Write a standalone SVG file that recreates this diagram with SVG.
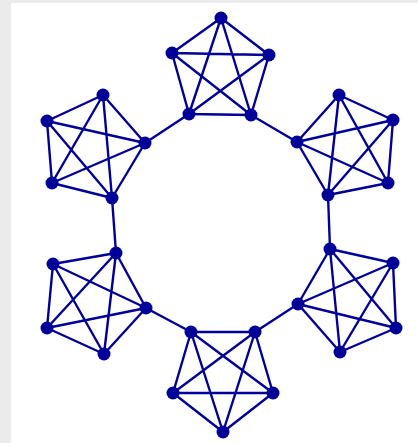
<svg xmlns="http://www.w3.org/2000/svg" width="418" height="443" viewBox="0 0 418 443">
<style>
.e{stroke:#000099;stroke-width:2.4;fill:none;stroke-linecap:round}
.n{fill:#000099}
</style>
<rect width="418" height="443" fill="#ebebeb"/>
<rect x="11" y="3" width="407" height="440" fill="#ffffff"/>
<g id="connectors" class="e">
<path d="M221,18L172,53M221,18L269,55M221,18L189,114M221,18L251,115M172,53L269,55M172,53L189,114M172,53L251,115M269,55L189,114M269,55L251,115M189,114L251,115"/>
<path d="M339,95L393,120M339,95L297,142M339,95L388,183M339,95L328,195M393,120L297,142M393,120L388,183M393,120L328,195M297,142L388,183M297,142L328,195M388,183L328,195"/>
<path d="M103,95L47,121M103,95L145,143M103,95L52,183M103,95L112,198M47,121L145,143M47,121L52,183M47,121L112,198M145,143L52,183M145,143L112,198M52,183L112,198"/>
<path d="M116,253L53,264M116,253L146,308M116,253L47,328M116,253L104,354M53,264L146,308M53,264L47,328M53,264L104,354M146,308L47,328M146,308L104,354M47,328L104,354"/>
<path d="M330,249L393,263M330,249L298,304M330,249L396,328M330,249L340,352M393,263L298,304M393,263L396,328M393,263L340,352M298,304L396,328M298,304L340,352M396,328L340,352"/>
<path d="M191,332L255,332M191,332L173,393M191,332L273,393M191,332L223,432M255,332L173,393M255,332L273,393M255,332L223,432M173,393L273,393M173,393L223,432M273,393L223,432"/>
<path d="M189,114L145,143M251,115L297,142M328,195L330,249M298,304L255,332M191,332L146,308M116,253L112,198"/>
</g>
<g id="t1" class="n"><circle cx="221" cy="18" r="6.5"/></g>
<g id="t2" class="n"><circle cx="172" cy="53" r="6.5"/></g>
<g id="t3" class="n"><circle cx="269" cy="55" r="6.5"/></g>
<g id="t4" class="n"><circle cx="189" cy="114" r="6.5"/></g>
<g id="t5" class="n"><circle cx="251" cy="115" r="6.5"/></g>
<g id="a1" class="n"><circle cx="339" cy="95" r="6.5"/></g>
<g id="a2" class="n"><circle cx="393" cy="120" r="6.5"/></g>
<g id="a3" class="n"><circle cx="297" cy="142" r="6.5"/></g>
<g id="a4" class="n"><circle cx="388" cy="183" r="6.5"/></g>
<g id="a5" class="n"><circle cx="328" cy="195" r="6.5"/></g>
<g id="b1" class="n"><circle cx="103" cy="95" r="6.5"/></g>
<g id="b2" class="n"><circle cx="47" cy="121" r="6.5"/></g>
<g id="b3" class="n"><circle cx="145" cy="143" r="6.5"/></g>
<g id="b4" class="n"><circle cx="52" cy="183" r="6.5"/></g>
<g id="b5" class="n"><circle cx="112" cy="198" r="6.5"/></g>
<g id="c1" class="n"><circle cx="116" cy="253" r="6.5"/></g>
<g id="c2" class="n"><circle cx="53" cy="264" r="6.5"/></g>
<g id="c3" class="n"><circle cx="146" cy="308" r="6.5"/></g>
<g id="c4" class="n"><circle cx="47" cy="328" r="6.5"/></g>
<g id="c5" class="n"><circle cx="104" cy="354" r="6.5"/></g>
<g id="d1" class="n"><circle cx="330" cy="249" r="6.5"/></g>
<g id="d2" class="n"><circle cx="393" cy="263" r="6.5"/></g>
<g id="d3" class="n"><circle cx="298" cy="304" r="6.5"/></g>
<g id="d4" class="n"><circle cx="396" cy="328" r="6.5"/></g>
<g id="d5" class="n"><circle cx="340" cy="352" r="6.5"/></g>
<g id="e1" class="n"><circle cx="191" cy="332" r="6.5"/></g>
<g id="e2" class="n"><circle cx="255" cy="332" r="6.5"/></g>
<g id="e3" class="n"><circle cx="173" cy="393" r="6.5"/></g>
<g id="e4" class="n"><circle cx="273" cy="393" r="6.5"/></g>
<g id="e5" class="n"><circle cx="223" cy="432" r="6.5"/></g>
</svg>
